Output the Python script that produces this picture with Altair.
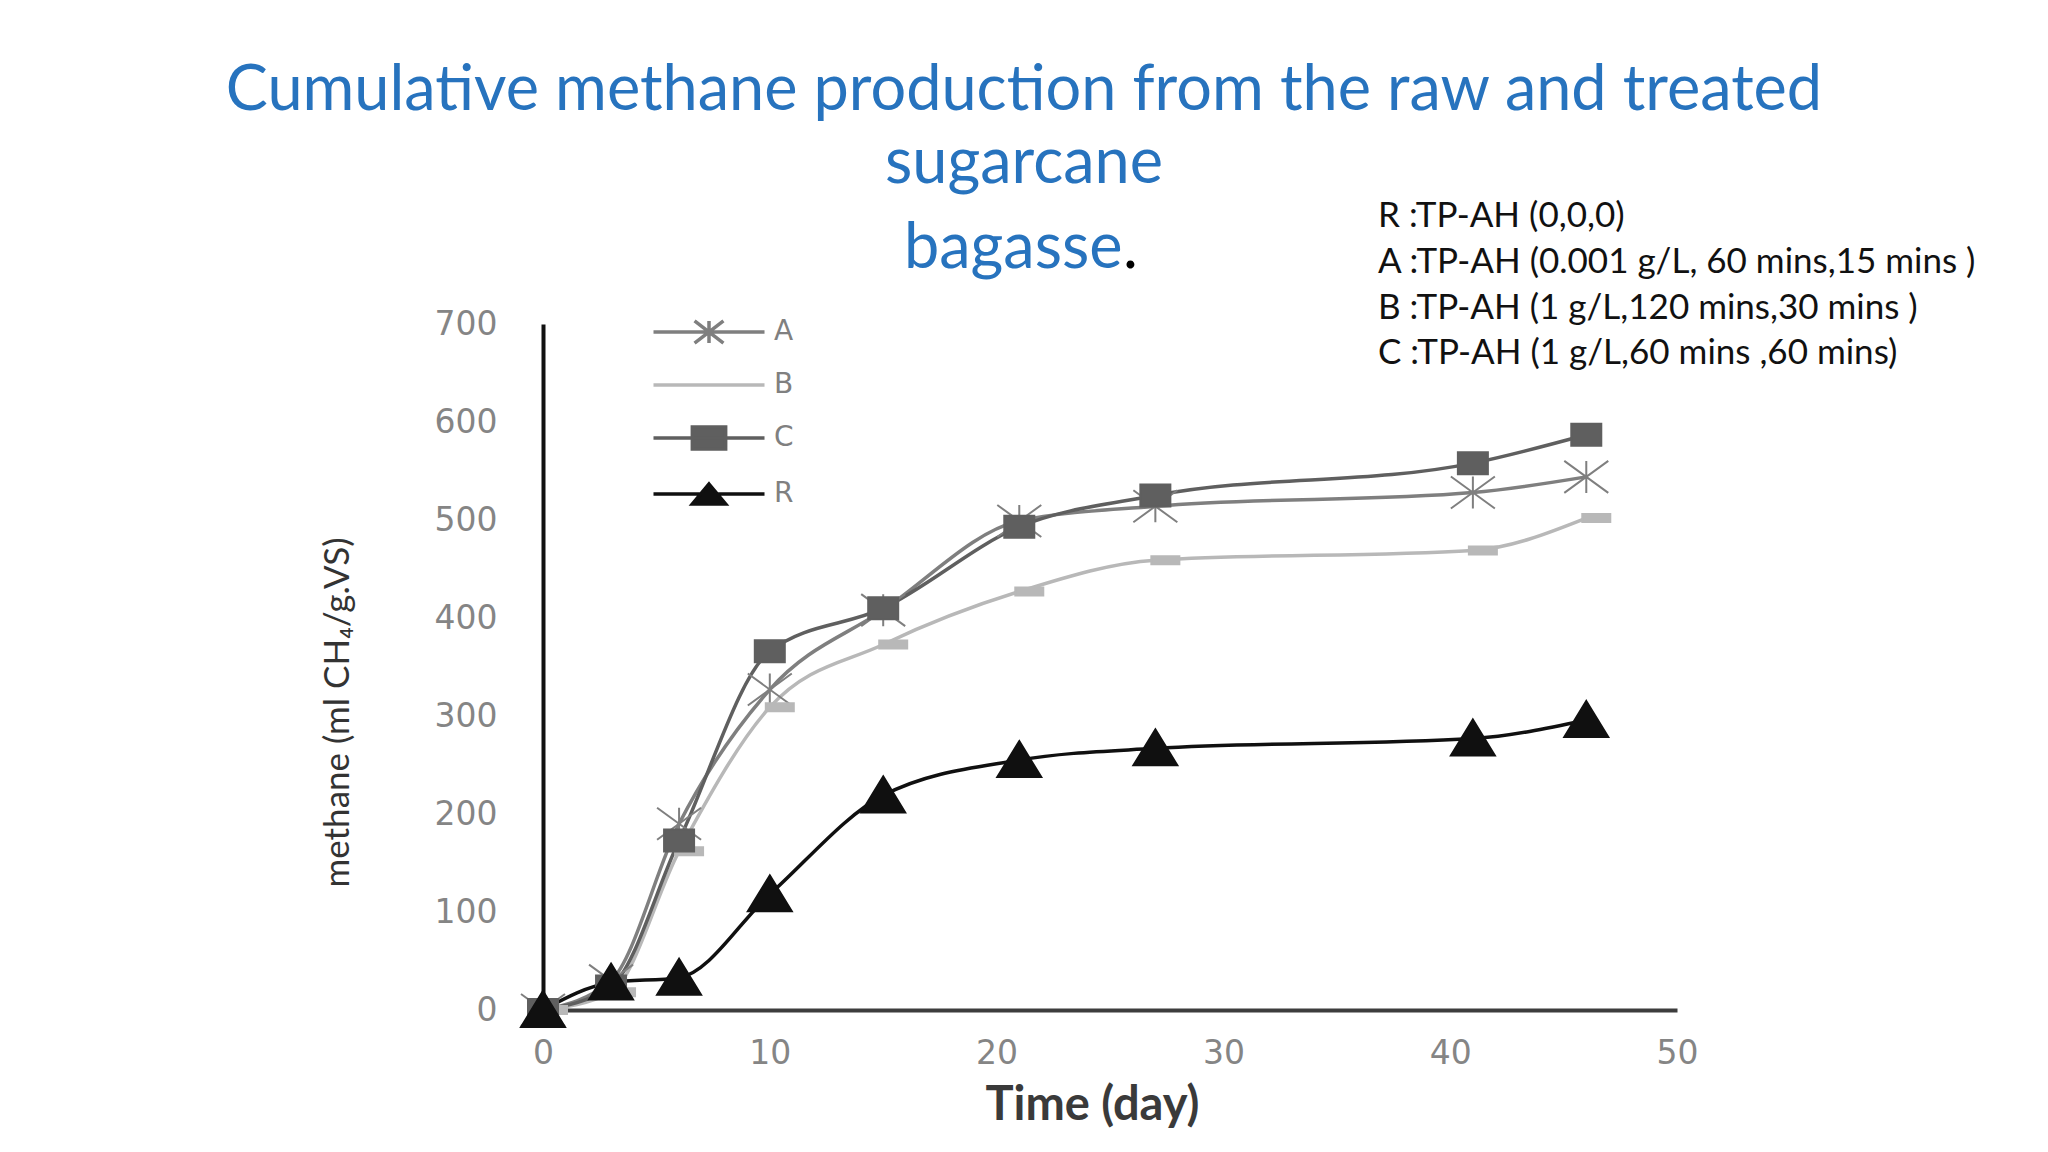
import altair as alt
import pandas as pd

# ---- data ----
DAYS = [0, 3, 6, 10, 15, 21, 27, 41, 46]
SERIES_A = [0, 30, 190, 327, 408, 499, 514, 528, 544]
SERIES_B = [0, 18, 162, 309, 373, 427, 459, 469, 502]
SERIES_C = [0, 24, 173, 366, 410, 493, 525, 558, 587]
SERIES_R = [0, 28, 33, 118, 219, 255, 267, 277, 296]

SERIES_NAMES = ["A", "B", "C", "R"]
X_TICKS = [0, 10, 20, 30, 40, 50]
Y_TICKS = [0, 100, 200, 300, 400, 500, 600, 700]

TITLE_LINES = ["Cumulative methane production from the raw and treated", "sugarcane", "bagasse"]
TITLE_DOT = "."
NOTE_LINES = [
    "R :TP-AH (0,0,0)",
    "A :TP-AH (0.001 g/L, 60 mins,15 mins )",
    "B :TP-AH (1 g/L,120 mins,30 mins )",
    "C :TP-AH (1 g/L,60 mins ,60 mins)",
]
X_TITLE = "Time (day)"
Y_TITLE = "methane (ml CH\u2084/g.VS)"

# ---- styles ----
COLORS = ["#7f7f7f", "#b8b8b8", "#5f5f5f", "#101010"]
MARKER_PATHS = [
    "M0,-0.8V0.8M-1.1,-0.8L1.1,0.8M-1.1,0.8L1.1,-0.8",
    "M-0.2,-0.2H1.2V0.2H-0.2Z",
    "M-0.75,-0.55H0.75V0.55H-0.75Z",
    "M0,-0.95L1.1,0.85L-1.1,0.85Z",
]
LEGEND_PATHS = [
    "M-5,0H5M0,-1V1M-1.3,-1L1.3,1M-1.3,1L1.3,-1",
    "M-5,0H5",
    "M-5,0H5M-1.5,-1H1.5V1H-1.5Z",
    "M-5,0H5M0,-0.9L1.5,0.9L-1.5,0.9Z",
]
TITLE_BLUE = "#2773BE"

rows = []
for name, vals in zip(SERIES_NAMES, [SERIES_A, SERIES_B, SERIES_C, SERIES_R]):
    for d, v in zip(DAYS, vals):
        rows.append({"day": d, "methane": v, "series": name})
df = pd.DataFrame(rows)

x_enc = alt.X(
    "day:Q",
    scale=alt.Scale(domain=[0, 50], nice=False, zero=True),
    axis=alt.Axis(
        values=X_TICKS, title=X_TITLE, ticks=False, grid=False,
        domainColor="#3d3d3d", domainWidth=4,
        labelFont="DejaVu Sans", labelFontSize=33, labelColor="#858585",
        labelPadding=27, labelFlush=False,
        titleFont="Lato", titleFontSize=47, titleFontWeight="bold",
        titleColor="#3a3a3a", titleX=549, titleY=95,
        titleAlign="center", titleBaseline="middle",
    ),
)
y_enc = alt.Y(
    "methane:Q",
    scale=alt.Scale(domain=[0, 700], nice=False),
    axis=alt.Axis(
        values=Y_TICKS, title=Y_TITLE, ticks=False, grid=False,
        domainColor="#111111", domainWidth=4,
        labelFont="DejaVu Sans", labelFontSize=33, labelColor="#858585",
        labelPadding=46, labelFlush=False,
        titleFont="Lato", titleFontSize=35, titleFontWeight="normal",
        titleColor="#333333", titleX=-206, titleY=388,
        titleAlign="center", titleBaseline="middle", titleAngle=270,
    ),
)

color_scale = alt.Scale(domain=SERIES_NAMES, range=COLORS)

lines = alt.Chart(df).mark_line(interpolate="monotone", strokeWidth=3.5).encode(
    x=x_enc, y=y_enc,
    color=alt.Color("series:N", scale=color_scale, legend=None),
)

points = alt.Chart(df).mark_point(size=1600, strokeWidth=2, opacity=1).encode(
    x=x_enc, y=y_enc,
    shape=alt.Shape("series:N", scale=alt.Scale(domain=SERIES_NAMES, range=MARKER_PATHS), legend=None),
    fill=alt.Fill("series:N", scale=color_scale, legend=None),
    stroke=alt.Stroke("series:N", scale=color_scale, legend=None),
)

leg = alt.Legend(
    orient="none", legendX=152, legendY=-6, title=None, padding=0,
    labelFont="DejaVu Sans", labelFontSize=28, labelColor="#808080",
    labelOffset=51, rowPadding=20, symbolStrokeWidth=3.5, symbolSize=493,
    symbolOpacity=1,
)
legend_layer = alt.Chart(df).transform_filter("false").mark_point(
    size=493, strokeWidth=3.5, opacity=1, filled=True
).encode(
    x=x_enc, y=y_enc,
    shape=alt.Shape("series:N", scale=alt.Scale(domain=SERIES_NAMES, range=LEGEND_PATHS), legend=leg),
    fill=alt.Fill("series:N", scale=alt.Scale(domain=SERIES_NAMES, range=COLORS), legend=leg),
    stroke=alt.Stroke("series:N", scale=alt.Scale(domain=SERIES_NAMES, range=COLORS), legend=leg),
)

one = alt.Data(values=[{}])


def text_layer(txt, x, y, color, size, align="center", font="Lato"):
    return alt.Chart(one).mark_text(
        text=txt, font=font, fontSize=size, color=color, align=align,
        baseline="alphabetic",
    ).encode(x=alt.value(x), y=alt.value(y))


TS = 63
title_y = [-214, -141, -56]
texts = [
    text_layer(TITLE_LINES[0], 481, title_y[0], TITLE_BLUE, TS),
    text_layer(TITLE_LINES[1], 481, title_y[1], TITLE_BLUE, TS),
    text_layer(TITLE_LINES[2], 361, title_y[2], TITLE_BLUE, TS, align="left"),
    text_layer(TITLE_DOT, 580, title_y[2], "#000000", TS, align="left"),
]

note_y = [-97, -51, -5, 40]
for line, yy in zip(NOTE_LINES, note_y):
    texts.append(text_layer(line, 835, yy, "#111111", 35, align="left"))

chart = alt.layer(lines, points, legend_layer, *texts).resolve_scale(
    shape="independent", fill="independent", stroke="independent"
).properties(
    width=1134, height=686,
    autosize=alt.AutoSizeParams(type="none"),
    padding={"left": 535, "top": 316, "right": 340, "bottom": 126},
    background="white",
).configure_view(stroke=None)

chart.save("out.html", embed_options={"renderer": "svg", "actions": False})
